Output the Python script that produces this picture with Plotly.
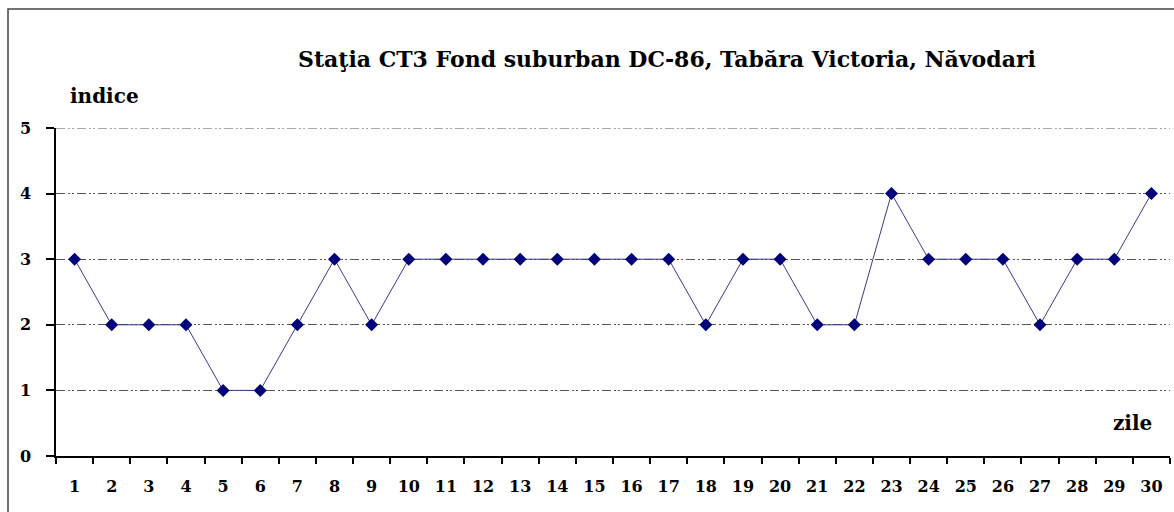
import plotly.graph_objects as go

days = [str(i) for i in range(1, 31)]
indice = [3, 2, 2, 2, 1, 1, 2, 3, 2, 3, 3, 3, 3, 3, 3, 3, 3, 2, 3, 3, 2, 2, 4, 3, 3, 3, 2, 3, 3, 4]
y_ticks = [0, 1, 2, 3, 4, 5]
title_text = "Staţia CT3 Fond suburban DC-86, Tabăra Victoria, Năvodari"

W, H = 1174, 512
L, R, T, B = 56, 4, 128, 56
pw, ph = W - L - R, H - T - B

def px(x):
    return (x - L) / pw

def py(y):
    return (H - B - y) / ph

FONT = "DejaVu Serif"
GRID_DASH = "9px,3px,2px,2px,2px,3px"

fig = go.Figure()
fig.add_trace(go.Scatter(
    x=days, y=indice, mode="lines+markers",
    line=dict(color="#3a3a8c", width=1),
    marker=dict(symbol="diamond", size=10, color="#00007a"),
    showlegend=False, cliponaxis=False,
))

fig.update_layout(
    width=W, height=H,
    margin=dict(l=L, r=R, t=T, b=B, autoexpand=False),
    paper_bgcolor="white", plot_bgcolor="white",
    font=dict(family=FONT, color="black"),
    xaxis=dict(
        type="category", tickson="boundaries", ticks="outside", ticklen=6,
        tickcolor="black", tickwidth=1.5, automargin=False,
        showline=True, linecolor="black", linewidth=1.5,
        showgrid=False, zeroline=False,
        tickfont=dict(family=FONT, size=16, color="black", weight="bold"),
        ticklabelstandoff=15,
        range=[-0.5, 29.5],
    ),
    yaxis=dict(
        range=[0, 5], tickvals=y_ticks, ticks="outside", ticklen=8,
        tickcolor="black", tickwidth=1.5, automargin=False,
        showline=True, linecolor="black", linewidth=1.5,
        showgrid=True, gridcolor="#555555", gridwidth=1,
        griddash=GRID_DASH,
        zeroline=False,
        tickfont=dict(family=FONT, size=16, color="black", weight="bold"),
        ticklabelstandoff=12,
    ),
    shapes=[
        dict(type="rect", xref="paper", yref="paper",
             x0=px(8), x1=px(1190), y0=py(530), y1=py(9),
             line=dict(color="#444444", width=1.5), fillcolor="rgba(0,0,0,0)"),
        dict(type="line", xref="paper", yref="y", x0=0, x1=1, y0=y_ticks[-1], y1=y_ticks[-1],
             line=dict(color="#555555", width=1, dash=GRID_DASH), layer="below"),
    ],
    annotations=[
        dict(text=f"<b>{title_text}</b>", xref="paper", yref="paper",
             x=px(667), y=py(59), showarrow=False, xanchor="center", yanchor="middle",
             font=dict(family=FONT, size=22, color="black")),
        dict(text="<b>indice</b>", xref="paper", yref="paper",
             x=px(68), y=py(96), showarrow=False, xanchor="left", yanchor="middle",
             font=dict(family=FONT, size=20, color="black")),
        dict(text="<b>zile</b>", xref="paper", yref="paper",
             x=px(1154), y=py(423), showarrow=False, xanchor="right", yanchor="middle",
             font=dict(family=FONT, size=20, color="black")),
    ],
)

fig.write_html("out.html", config={"displayModeBar": False},
               post_script="document.body.style.margin='0';document.body.style.padding='0';")
